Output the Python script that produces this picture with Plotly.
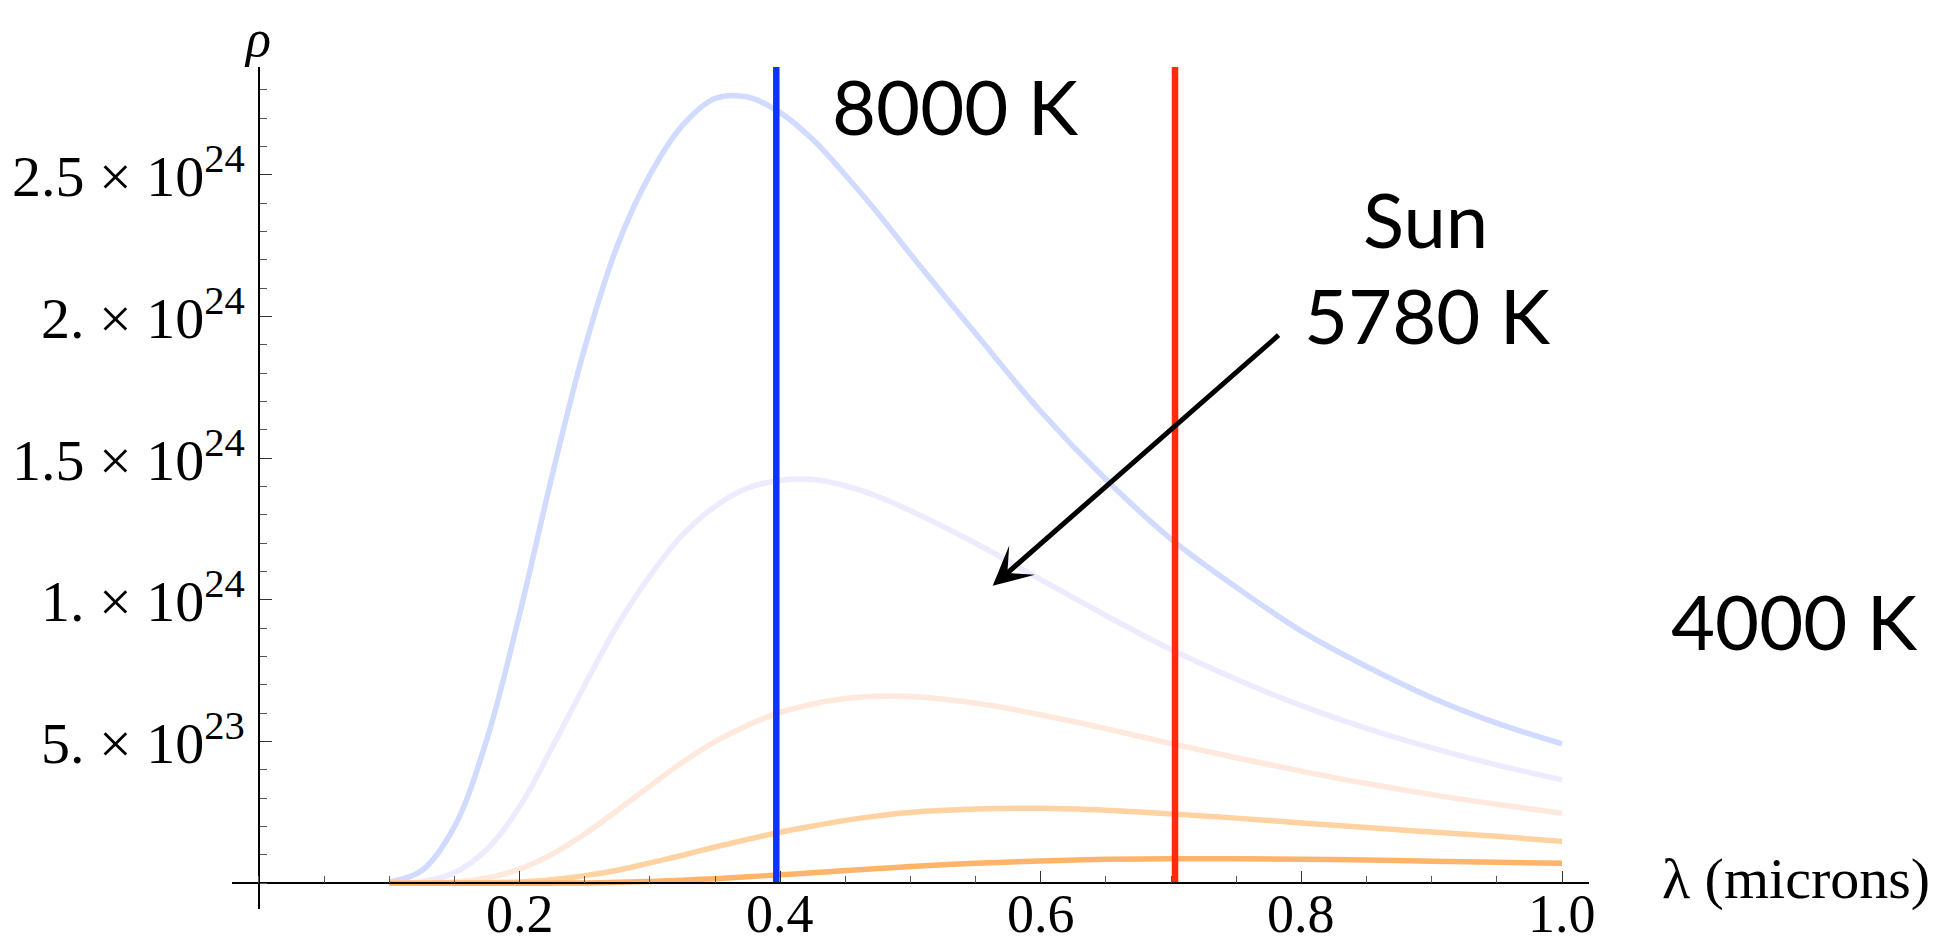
import plotly.graph_objects as go

# ---------------- data ----------------
wavelength = [0.100, 0.125, 0.150, 0.175, 0.200, 0.225, 0.250, 0.275, 0.300,
              0.325, 0.350, 0.375, 0.400, 0.425, 0.450, 0.475, 0.500, 0.550,
              0.600, 0.650, 0.700, 0.750, 0.800, 0.850, 0.900, 0.950, 1.000]

# energy density rho, in units of 1e23
rho_8000 = [0.04, 0.45, 2.0, 5.1, 9.5, 14.4, 18.9, 22.5, 25.0,
            26.75, 27.7, 27.75, 27.2, 26.25, 25.0, 23.65, 22.2, 19.4,
            16.65, 14.25, 12.15, 10.45, 8.9, 7.65, 6.55, 5.65, 4.92]
rho_7000 = [0.0, 0.06, 0.37, 1.2, 2.7, 4.8, 7.0, 9.1, 10.85,
            12.3, 13.3, 13.95, 14.22, 14.25, 14.03, 13.65, 13.15, 12.0,
            10.72, 9.45, 8.25, 7.2, 6.27, 5.47, 4.78, 4.18, 3.65]
rho_6000 = [0.0, 0.01, 0.05, 0.19, 0.5, 1.03, 1.74, 2.57, 3.43,
            4.27, 5.0, 5.58, 6.03, 6.33, 6.52, 6.6, 6.59, 6.36,
            5.95, 5.46, 4.93, 4.43, 3.96, 3.52, 3.13, 2.79, 2.47]
rho_5000 = [0.0, 0.0, 0.005, 0.015, 0.05, 0.13, 0.27, 0.46, 0.72,
            0.99, 1.28, 1.55, 1.8, 2.02, 2.22, 2.38, 2.5, 2.62,
            2.65, 2.58, 2.45, 2.3, 2.13, 1.97, 1.81, 1.66, 1.48]
rho_4000 = [0.0, 0.0, 0.0, 0.001, 0.003, 0.006, 0.015, 0.035, 0.065,
            0.11, 0.165, 0.23, 0.30, 0.37, 0.45, 0.52, 0.59, 0.71,
            0.79, 0.845, 0.865, 0.87, 0.85, 0.82, 0.78, 0.74, 0.71]

curve_series = [rho_8000, rho_7000, rho_6000, rho_5000, rho_4000]
curve_colors = ["#d1daff", "#edebff", "#ffe8dc", "#ffd2a2", "#ffb469"]

visible_edges = [0.397, 0.703]          # vertical marker lines (microns)
visible_colors = ["#0f33ff", "#ff2b0d"]
marker_top = 2.881e24

x_tick_vals = [0.2, 0.4, 0.6, 0.8, 1.0]
x_tick_text = ["0.2", "0.4", "0.6", "0.8", "1.0"]
y_tick_vals = [5e23, 1e24, 1.5e24, 2e24, 2.5e24]
y_tick_text = ["5. × 10<sup>23</sup>", "1. × 10<sup>24</sup>", "1.5 × 10<sup>24</sup>",
               "2. × 10<sup>24</sup>", "2.5 × 10<sup>24</sup>"]

arrow_tail = (0.7836, 1.939e24)
arrow_tip = (0.5631, 1.050e24)

SCALE = 1e23

# ---------------- layout geometry (screen pixels) ----------------
OFF = 8                      # page body margin of the html output
W, H = 1959 - OFF, 945 - OFF
L, R, T, B = 232, 1589, 67, 909   # plot area in screen pixels


def px(x, y):
    """screen pixel position -> paper coordinates"""
    return (x - L) / (R - L), (B - y) / (B - T)


fig = go.Figure()

for vals, col in zip(curve_series, curve_colors):
    fig.add_trace(go.Scatter(
        x=wavelength, y=[v * SCALE for v in vals], mode="lines",
        line=dict(color=col, width=5.5, shape="spline", smoothing=1.0),
        hoverinfo="skip", showlegend=False))

for xv, col in zip(visible_edges, visible_colors):
    fig.add_trace(go.Scatter(
        x=[xv, xv], y=[0, marker_top], mode="lines",
        line=dict(color=col, width=6.5), hoverinfo="skip", showlegend=False))

serif = "Liberation Serif, Times New Roman, serif"
sans = "Lato, Open Sans, sans-serif"

fig.update_layout(
    width=W, height=H,
    margin=dict(l=L - OFF, r=W - (R - OFF), t=T - OFF, b=H - (B - OFF), pad=0,
                autoexpand=False),
    paper_bgcolor="white", plot_bgcolor="white",
    showlegend=False,
    xaxis=dict(
        range=[-0.0207, 1.0207], anchor="free", position=px(0, 883.3)[1],
        automargin=False,
        showgrid=False, zeroline=False, showline=True, linecolor="black", linewidth=1.5,
        tickmode="array", tickvals=x_tick_vals, showticklabels=False,
        ticks="inside", ticklen=12, tickwidth=1.3, tickcolor="#333",
        minor=dict(ticks="inside", dtick=0.05, tick0=0, ticklen=7, tickwidth=1.2,
                   tickcolor="#555", showgrid=False),
    ),
    yaxis=dict(
        range=[-0.907e23, 2.881e24], anchor="free", position=px(259, 0)[0],
        automargin=False,
        showgrid=False, zeroline=False, showline=True, linecolor="black", linewidth=1.5,
        tickmode="array", tickvals=y_tick_vals, showticklabels=False,
        ticks="inside", ticklen=12, tickwidth=1.3, tickcolor="#333",
        minor=dict(ticks="inside", dtick=1e23, tick0=0, ticklen=7, tickwidth=1.2,
                   tickcolor="#555", showgrid=False),
    ),
)

annotations = []


def text_at(text, x, y, size, family, xanchor="center", yanchor="middle"):
    xp, yp = px(x, y)
    annotations.append(dict(text=text, x=xp, y=yp, xref="paper", yref="paper",
                            xanchor=xanchor, yanchor=yanchor, showarrow=False,
                            font=dict(family=family, size=size, color="black")))


# tick labels
for v, t in zip(x_tick_vals, x_tick_text):
    annotations.append(dict(text=t, x=v, xref="x", y=px(0, 882.4)[1], yref="paper",
                            xanchor="center", yanchor="top", showarrow=False,
                            font=dict(family=serif, size=54, color="black")))
for v, t in zip(y_tick_vals, y_tick_text):
    annotations.append(dict(text=t, x=px(247, 0)[0], xref="paper", y=v, yref="y",
                            xanchor="right", yanchor="middle", yshift=2, showarrow=False,
                            font=dict(family=serif, size=58, color="black")))

text_at("8000 K", 955, 105, 76, sans)
text_at("Sun", 1425, 218, 76, sans)
text_at("5780 K", 1427, 314, 76, sans)
text_at("4000 K", 1794, 620, 76, sans)
text_at("λ (microns)", 1660, 878, 58, serif, xanchor="left")
text_at("<i>ρ</i>", 257, OFF, 52, serif, yanchor="top")

annotations.append(dict(
    text="", x=arrow_tip[0], y=arrow_tip[1], xref="x", yref="y",
    ax=arrow_tail[0], ay=arrow_tail[1], axref="x", ayref="y",
    showarrow=True, arrowhead=3, arrowsize=1.3, arrowwidth=5, arrowcolor="black"))

fig.update_layout(annotations=annotations)

fig.write_html("out.html")
